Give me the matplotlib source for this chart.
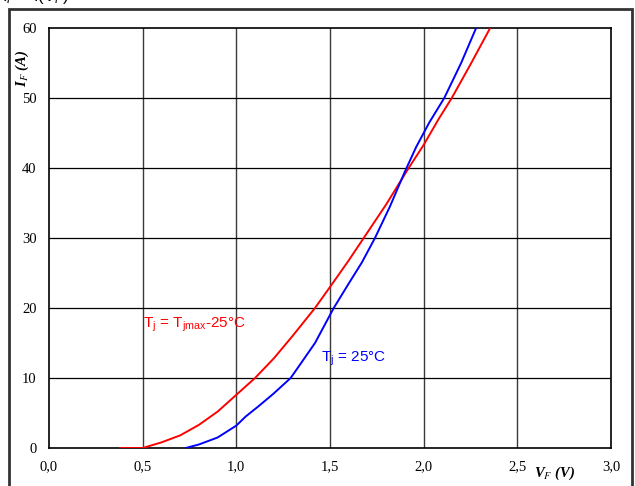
import numpy as np
import matplotlib
matplotlib.use("Agg")
import matplotlib.pyplot as plt
from matplotlib.patches import Rectangle

plt.rcParams['mathtext.fontset'] = 'custom'
plt.rcParams['mathtext.rm'] = 'Liberation Sans'
plt.rcParams['mathtext.it'] = 'Liberation Sans:italic'

# forward characteristic, Tj = Tjmax - 25 C (red)
vf_hot = [0.38, 0.50, 0.60, 0.70, 0.80, 0.90, 1.00, 1.10, 1.20, 1.30, 1.42, 1.50,
          1.60, 1.68, 1.80, 1.92, 2.00, 2.08, 2.15, 2.25, 2.355]
if_hot = [0.0, 0.0, 0.8, 1.8, 3.3, 5.2, 7.6, 10.0, 12.8, 16.0, 20.0, 23.0,
          26.8, 30.0, 34.8, 40.0, 43.3, 47.0, 50.0, 54.8, 60.0]

# forward characteristic, Tj = 25 C (blue)
vf_cold = [0.73, 0.80, 0.90, 1.00, 1.05, 1.12, 1.20, 1.29, 1.35, 1.42, 1.52, 1.60,
           1.67, 1.74, 1.82, 1.90, 1.96, 2.03, 2.11, 2.20, 2.28]
if_cold = [0.0, 0.5, 1.5, 3.2, 4.5, 6.0, 7.8, 10.0, 12.3, 15.0, 20.0, 23.5,
           26.5, 30.0, 34.5, 39.5, 43.0, 46.5, 50.0, 55.0, 60.0]

xticks = [0.0, 0.5, 1.0, 1.5, 2.0, 2.5, 3.0]
xlabels = ['0,0', '0,5', '1,0', '1,5', '2,0', '2,5', '3,0']
yticks = [0, 10, 20, 30, 40, 50, 60]

W, H = 635, 486
fig = plt.figure(figsize=(W / 100, H / 100), dpi=100)
ax = fig.add_axes([49 / W, 1 - 448 / H, (611 - 49) / W, (448 - 28) / H])

ax.plot(vf_hot, if_hot, color='#ff0000', lw=1.4, zorder=3)
ax.plot(vf_cold, if_cold, color='#0000ff', lw=1.4, zorder=3)

ax.set_xlim(0, 3.0)
ax.set_ylim(0, 60)
ax.set_xticks(xticks)
ax.set_xticklabels(xlabels)
ax.set_yticks(yticks)
for t in ax.get_xticklabels() + ax.get_yticklabels():
    t.set_family('Liberation Serif')
    t.set_fontsize(10.5)
ax.tick_params(length=0, pad=9)
ax.tick_params(axis='y', pad=9)

for v in xticks[1:-1]:
    ax.axvline(v, color='#3a3a3a', lw=1.0, zorder=1)
for v in yticks[1:-1]:
    ax.axhline(v, color='black', lw=0.9, zorder=1)
for s in ax.spines.values():
    s.set_linewidth(1.2)

ax.text(2.70, -2.4, 'V$_F$ (V)', fontsize=10.5, ha='center', va='top',
        family='Liberation Serif', fontweight='bold', style='italic',
        math_fontfamily='stix')
fig.text(22 / W, 1 - 68 / H, 'I$_F$ (A)', fontsize=10.5, ha='center', va='center',
         rotation=90, family='Liberation Serif', fontweight='bold', style='italic',
         math_fontfamily='stix')

ax.text(0.50, 17.6, 'T$_{\\rm j}$ = T$_{\\rm jmax}$-25°C', color='#ff0000', fontsize=11,
        family='Liberation Sans', va='center')
ax.text(1.45, 12.8, 'T$_{\\rm j}$ = 25°C', color='#0000ff', fontsize=11,
        family='Liberation Sans', va='center')

# outer frame and cut-off title
fig.patches.append(Rectangle((9 / W, -0.05), (632 - 9) / W, 1.05 - 9 / H,
                             transform=fig.transFigure, fill=False,
                             edgecolor='#333333', lw=2))
fig.text(2 / W, 1 - 1 / H, 'I$_F$ = f(V$_F$)', fontsize=12, ha='left', va='baseline',
         family='Liberation Sans')

fig.savefig('out.png', dpi=100)
